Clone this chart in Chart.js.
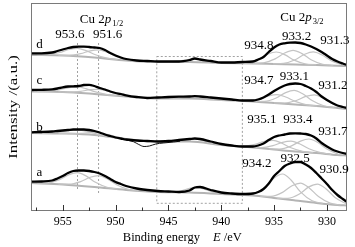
<!DOCTYPE html>
<html>
<head>
<meta charset="utf-8">
<script src="https://cdn.jsdelivr.net/npm/chart.js@4.4.1/dist/chart.umd.min.js"></script>
<style>
  html, body { margin: 0; padding: 0; background: #fff; }
</style>
</head>
<body>
<canvas id="xps" width="355" height="247"></canvas>
<script>
// binding energy grid for the envelopes (eV)
const energy = [958, 957, 956, 955.5, 955, 954.5, 954, 953.5, 953, 952.5, 952, 951.5, 951, 950.5, 950, 949.5, 949, 948, 947, 946,
                945, 944, 943, 942.5, 942, 941, 940, 939, 938, 937, 936.5, 936, 935.5, 935, 934.5, 934, 933.5, 933, 932.5, 932,
                931.5, 931, 930.5, 930, 929.5, 929, 928.5, 928.1];

// fitted envelopes, offset spectra (a.u.)
const envA = [29.3, 29.5, 30.5, 32.5, 35, 38, 40, 40.5, 40.5, 40, 39, 37.5, 35, 32, 29, 27, 25, 22.5, 21, 20,
              19.5, 19, 20.5, 23.5, 24, 21, 18.5, 17.5, 17, 17.5, 19, 22, 27.5, 35, 40, 45, 47.5, 49, 49, 46.5,
              43, 38, 32.5, 27, 21, 16, 12, 9];
const envB = [78.7, 79, 79.5, 80, 80.5, 81, 81.5, 81.5, 81.5, 81, 80, 78.5, 76.5, 75, 73.5, 72.5, 71.5, 70.5, 70, 69.5,
              70, 71, 72, 72.5, 72, 69.5, 67, 65.5, 64.5, 64.5, 65.5, 67.5, 71, 74, 75.5, 76.5, 77.5, 77.7, 77.5, 77,
              75.5, 72.5, 68, 64.5, 61.5, 59.5, 58, 57];
const envC = [121, 121.2, 121.7, 122.5, 123.7, 124.5, 124.7, 125, 126, 126.2, 125, 123, 121.5, 119.5, 118, 117, 115.7, 114, 113, 113.5,
              114, 114.3, 114.5, 114.8, 114.5, 113.5, 112.5, 111.5, 110.5, 110.5, 111.5, 113.5, 116.5, 120, 123, 125.5, 127, 127.5, 127, 125,
              122.5, 119, 114.5, 111, 108, 105.5, 104, 103];
const envD = [157.7, 157.7, 158.5, 160, 161.5, 163, 164, 164.3, 164.3, 164, 163.5, 163, 161, 158, 155.5, 153.5, 152, 150.5, 150, 149.5,
              149.5, 149.5, 151, 152.5, 151.5, 150, 148.5, 148.5, 149, 149.5, 151.5, 154, 159, 163.5, 166.5, 167.7, 168.3, 168.5, 168, 166.5,
              164.5, 162, 159, 155.5, 152, 149.5, 147.5, 146];

// raw trace of b where it leaves the envelope
const rawBx = [949, 948.3, 947.8, 947.3, 946.8, 946.2, 945.5, 944.5, 943.9];
const rawB  = [71, 69.3, 66.5, 64.5, 65, 67, 68, 69, 69.8];

// backgrounds
const bgE = [958, 955, 952, 949, 946, 943, 940, 937, 935, 933, 931, 929, 928.1];
const bgA = [28, 26.5, 24, 21, 19, 18.5, 17, 15.5, 13, 10.5, 8, 6, 5.5];
const bgB = [78, 77.5, 76, 72, 69.5, 69.5, 66, 63.5, 61.5, 59.5, 58, 56, 55.5];
const bgC = [119.5, 119, 117, 114.5, 112.5, 112.5, 111, 109.5, 108, 106.5, 105, 103, 102];
const bgD = [156, 155.5, 153.5, 150.5, 149, 149, 148, 147.5, 147, 146.5, 146, 145.3, 145];

// fitted components (2p1/2 x2, satellite, 2p3/2 x3)
const fitA_x = [
  [957.4, 956.4, 955.3, 954.4, 953.6, 952.8, 951.9, 950.8, 949.8],
  [955.4, 954.4, 953.3, 952.4, 951.6, 950.8, 949.9, 948.8, 947.8],
  [944.8, 943.8, 943.0, 942.3, 941.6, 940.8, 939.8],
  [938.0, 937.0, 935.9, 935.0, 934.2, 933.4, 932.5, 931.4, 930.4],
  [936.3, 935.3, 934.2, 933.3, 932.5, 931.7, 930.8, 929.7, 928.7],
  [934.7, 933.7, 932.6, 931.7, 930.9, 930.1, 929.2, 928.1]
];
const fitA_y = [
  [27.8, 28.1, 31.4, 36.4, 38.3, 35.1, 28.7, 23.7, 21.9],
  [26.8, 26.8, 29.4, 33.7, 35.3, 32.2, 26.2, 21.6, 20.3],
  [18.9, 20.0, 22.6, 23.7, 21.9, 18.8, 17.0],
  [16.2, 17.2, 23.3, 33.0, 37.0, 31.0, 19.1, 10.2, 7.6],
  [14.7, 14.6, 18.6, 25.3, 27.9, 23.3, 14.4, 7.9, 5.9],
  [12.7, 12.7, 17.0, 24.1, 26.9, 22.3, 13.2, 6.75]
];
const fitB_x = [
  [957.4, 956.4, 955.3, 954.4, 953.6, 952.8, 951.9, 950.8, 949.8],
  [955.4, 954.4, 953.3, 952.4, 951.6, 950.8, 949.9, 948.8, 947.8],
  [945.0, 944.0, 943.2, 942.5, 941.8, 941.0, 940.0],
  [938.9, 937.9, 936.8, 935.9, 935.1, 934.3, 933.4, 932.3, 931.3],
  [937.2, 936.2, 935.1, 934.2, 933.4, 932.6, 931.7, 930.6, 929.6],
  [935.5, 934.5, 933.4, 932.5, 931.7, 930.9, 930.0, 928.9]
];
const fitB_y = [
  [77.9, 78.0, 79.1, 80.6, 81.1, 79.8, 77.5, 74.7, 73.1],
  [77.6, 77.4, 77.6, 78.4, 78.2, 76.6, 74.2, 72.0, 71.0],
  [69.6, 70.3, 71.9, 72.1, 70.5, 68.0, 66.1],
  [65.1, 64.8, 66.6, 69.6, 70.6, 68.0, 63.2, 59.6, 58.3],
  [63.7, 63.4, 65.3, 68.7, 69.9, 67.2, 62.2, 58.3, 56.7],
  [62.1, 61.9, 64.9, 69.9, 72.0, 68.7, 62.0, 56.8]
];
const fitC_x = [
  [957.4, 956.4, 955.3, 954.4, 953.6, 952.8, 951.9, 950.8, 949.8],
  [955.4, 954.4, 953.3, 952.4, 951.6, 950.8, 949.9, 948.8, 947.8],
  [944.9, 943.9, 943.1, 942.4, 941.7, 940.9, 939.9],
  [938.5, 937.5, 936.4, 935.5, 934.7, 933.9, 933.0, 931.9, 930.9],
  [936.9, 935.9, 934.8, 933.9, 933.1, 932.3, 931.4, 930.3, 929.3],
  [935.0, 934.0, 932.9, 932.0, 931.2, 930.4, 929.5, 928.4]
];
const fitC_y = [
  [119.4, 119.6, 121.3, 123.4, 124.1, 122.3, 119.1, 116.4, 115.2],
  [119.1, 118.9, 119.7, 121.3, 121.7, 120.0, 117.1, 114.7, 113.7],
  [112.6, 113.1, 114.4, 114.7, 113.7, 112.1, 111.0],
  [110.3, 110.3, 112.2, 115.2, 116.3, 114.0, 109.6, 106.2, 105.0],
  [109.5, 109.6, 113.0, 118.4, 120.6, 117.2, 110.4, 105.2, 103.4],
  [108.1, 108.0, 110.5, 114.6, 116.2, 113.2, 107.5, 103.1]
];
const fitD_x = [
  [957.4, 956.4, 955.3, 954.4, 953.6, 952.8, 951.9, 950.8, 949.8],
  [955.4, 954.4, 953.3, 952.4, 951.6, 950.8, 949.9, 948.8, 947.8],
  [945.0, 944.0, 943.2, 942.5, 941.8, 941.0, 940.0],
  [938.6, 937.6, 936.5, 935.6, 934.8, 934.0, 933.1, 932.0, 931.0],
  [937.0, 936.0, 934.9, 934.0, 933.2, 932.4, 931.5, 930.4, 929.4],
  [935.1, 934.1, 933.0, 932.1, 931.3, 930.5, 929.6, 928.5]
];
const fitD_y = [
  [156.0, 156.3, 158.5, 161.5, 162.6, 160.4, 156.3, 152.8, 151.4],
  [155.6, 155.6, 157.3, 160.2, 161.1, 158.7, 154.3, 150.9, 150.0],
  [149.1, 149.8, 151.4, 152.1, 151.0, 149.2, 148.1],
  [147.9, 148.4, 151.8, 156.8, 159.0, 156.4, 150.9, 147.0, 146.1],
  [147.6, 148.2, 152.1, 158.0, 160.6, 157.6, 151.3, 146.7, 145.5],
  [147.1, 147.6, 151.3, 156.7, 159.1, 156.2, 150.3, 146.0]
];

// dashed guides: two peak lines and the satellite box
const guideX = [[953.6, 953.6], [951.6, 951.6], [946.1, 938.0, 938.0, 946.1, 946.1]];
const guideY = [[168, 21], [168, 16], [154.5, 154.5, 7.7, 7.7, 154.5]];

// axis ticks
const xTicks = [955, 950, 945, 940, 935, 930];
const xMinor = [957.5, 952.5, 947.5, 942.5, 937.5, 932.5];

// text
const curveNames = ["a", "b", "c", "d"];
const curveNameY = [38.7, 83.7, 130, 166];
const peakText = ["953.6", "951.6", "934.8", "933.2", "931.3", "934.7", "933.1", "931.2",
                  "935.1", "933.4", "931.7", "934.2", "932.5", "930.9"];
const peakAtX  = [954.31, 950.76, 936.43, 932.86, 929.24, 936.43, 933.07, 929.43,
                  936.15, 932.74, 929.43, 936.62, 933.02, 929.33];
const peakAtY  = [176, 176, 165, 174.5, 170.3, 130.5, 134.3, 125,
                  91, 91, 79.3, 47.5, 52, 41.5];

const zip = (xs, ys) => xs.map((v, i) => ({ x: v, y: ys[i] }));

function curve(xs, ys, color, width, order, extra) {
    return Object.assign({
        data: zip(xs, ys), borderColor: color, borderWidth: width, pointRadius: 0,
        fill: false, cubicInterpolationMode: "monotone", order: order
    }, extra || {});
}

const datasets = [];
[envA, envB, envC, envD].forEach(e => datasets.push(curve(energy, e, "#000", 2.3, 0)));
datasets.push(curve(rawBx, rawB, "#111", 1, 1));
[[fitA_x, fitA_y], [fitB_x, fitB_y], [fitC_x, fitC_y], [fitD_x, fitD_y]].forEach(([xs, ys]) => {
    xs.forEach((x, i) => datasets.push(curve(x, ys[i], "#c4c4c4", 1.2, 2)));
});
[bgA, bgB, bgC, bgD].forEach(b => datasets.push(curve(bgE, b, "#b4b4b4", 2, 3)));
guideX.forEach((g, i) => datasets.push(curve(g, guideY[i], "#8a8a8a", 0.8, 4,
    { borderDash: [2, 2], cubicInterpolationMode: "default", tension: 0 })));

const SERIF = '"Liberation Serif", "Times New Roman", serif';

function drawCu(ctx, cx, cy, sub) {
    ctx.font = "13px " + SERIF;
    const w1 = ctx.measureText("Cu 2").width;
    ctx.font = "italic 13px " + SERIF;
    const w2 = ctx.measureText("p").width;
    ctx.font = "8.5px " + SERIF;
    const w3 = ctx.measureText(sub).width;
    let x0 = cx - (w1 + w2 + w3 + 1) / 2;
    ctx.textAlign = "left";
    ctx.font = "13px " + SERIF;
    ctx.fillText("Cu 2", x0, cy);
    ctx.font = "italic 13px " + SERIF;
    ctx.fillText("p", x0 + w1, cy);
    ctx.font = "8.5px " + SERIF;
    ctx.fillText(sub, x0 + w1 + w2 + 1, cy + 4);
}

const decor = {
    id: "decor",
    afterDraw(chart) {
        const { ctx, chartArea: ca, scales: { x, y } } = chart;
        ctx.save();
        // frame
        ctx.strokeStyle = "#7a7a7a";
        ctx.lineWidth = 1;
        ctx.strokeRect(ca.left + 0.5, ca.top + 0.5, ca.right - ca.left - 1, ca.bottom - ca.top - 1);
        // inward ticks
        ctx.strokeStyle = "#333";
        ctx.beginPath();
        xTicks.forEach(v => { const p = Math.round(x.getPixelForValue(v)) + 0.5; ctx.moveTo(p, ca.bottom); ctx.lineTo(p, ca.bottom - 6); });
        xMinor.forEach(v => { const p = Math.round(x.getPixelForValue(v)) + 0.5; ctx.moveTo(p, ca.bottom); ctx.lineTo(p, ca.bottom - 3.5); });
        ctx.stroke();

        ctx.fillStyle = "#000";
        ctx.textBaseline = "middle";
        // peak positions
        ctx.font = "13px " + SERIF;
        ctx.textAlign = "center";
        peakText.forEach((t, i) => ctx.fillText(t, x.getPixelForValue(peakAtX[i]), y.getPixelForValue(peakAtY[i])));
        // curve names
        curveNames.forEach((t, i) => ctx.fillText(t, x.getPixelForValue(957.2), y.getPixelForValue(curveNameY[i])));
        // Cu 2p labels
        drawCu(ctx, x.getPixelForValue(951.33), y.getPixelForValue(191), "1/2");
        drawCu(ctx, x.getPixelForValue(932.36), y.getPixelForValue(193.7), "3/2");

        // x title
        const mid = (ca.left + ca.right) / 2;
        ctx.font = "12.5px " + SERIF;
        ctx.textAlign = "right";
        ctx.fillText("Binding energy", mid + 11, 238);
        ctx.textAlign = "left";
        ctx.font = "italic 12.5px " + SERIF;
        ctx.fillText("E", mid + 24, 238);
        const we = ctx.measureText("E").width;
        ctx.font = "12.5px " + SERIF;
        ctx.fillText(" /eV", mid + 24 + we, 238);

        // y title
        ctx.translate(13.5, (ca.top + ca.bottom) / 2);
        ctx.rotate(-Math.PI / 2);
        ctx.scale(1.35, 1);
        ctx.font = "12.5px " + SERIF;
        ctx.textAlign = "center";
        ctx.fillText("Intensity /(a.u.)", 0, 0);
        ctx.restore();
    }
};

new Chart(document.getElementById("xps"), {
    type: "line",
    data: { datasets },
    options: {
        responsive: false, animation: false,
        layout: { padding: { left: 31, right: 8, top: 3, bottom: 0 } },
        plugins: { legend: { display: false }, tooltip: { enabled: false } },
        scales: {
            x: {
                type: "linear", min: 928.1, max: 958, reverse: true,
                grid: { display: false, drawTicks: false }, border: { display: false },
                ticks: { color: "#000", padding: 4, font: { family: SERIF, size: 12 } },
                afterBuildTicks: s => { s.ticks = xTicks.map(v => ({ value: v })); },
                afterFit: s => { s.height = 36; }
            },
            y: { display: false, min: 0, max: 208 }
        }
    },
    plugins: [decor]
});
</script>
</body>
</html>
